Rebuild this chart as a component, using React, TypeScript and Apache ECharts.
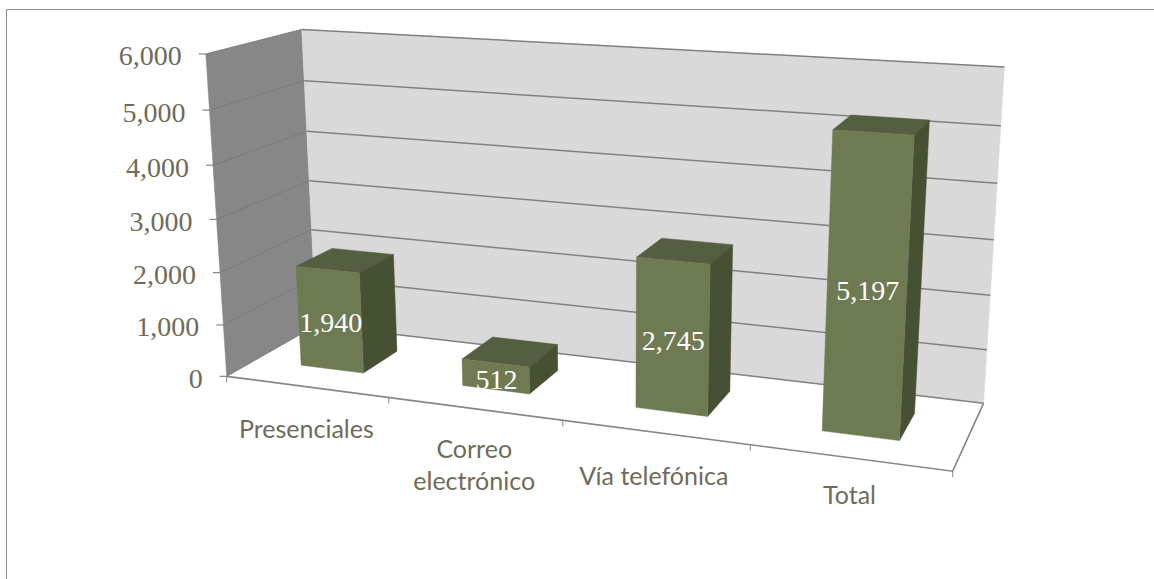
import React, { useEffect, useRef } from "react";
import * as echarts from "echarts";

const categories = ["Presenciales", "Correo\nelectrónico", "Vía telefónica", "Total"];
const values = [1940, 512, 2745, 5197];
const yTicks = [0, 1000, 2000, 3000, 4000, 5000, 6000];
const xTickPositions = [0, 1, 2, 3, 4];

const GRID = { left: 226, top: 54, width: 727, height: 322 };
const BAR_HALF = 0.197; // half of the bar's share of its band
const BAR_SHIFT = -0.003;
const DEPTH_FRONT = 0.31;
const DEPTH_BACK = 0.72;
const labelNudge = [[0, 41], [0, 55], [-1, 43], [0, 36]];

// Corners of the 3D box: [u, v, w] (across, height, depth) to pixel
const corners: number[][] = [
  [0, 0, 0, 226.5, 376.5],
  [0, 1, 0, 206, 54],
  [0, 0, 1, 316.5, 325],
  [0, 1, 1, 301.5, 29.5],
  [1, 0, 1, 983.5, 403.5],
  [1, 1, 1, 1004.5, 67],
  [1, 0, 0, 952.7, 471],
];

function solve(A: number[][], b: number[]) {
  const n = b.length;
  const M = A.map((r, i) => [...r, b[i]]);
  for (let i = 0; i < n; i++) {
    let p = i;
    for (let k = i + 1; k < n; k++) if (Math.abs(M[k][i]) > Math.abs(M[p][i])) p = k;
    [M[i], M[p]] = [M[p], M[i]];
    for (let k = i + 1; k < n; k++) {
      const f = M[k][i] / M[i][i];
      for (let j = i; j <= n; j++) M[k][j] -= f * M[i][j];
    }
  }
  const x = new Array(n).fill(0);
  for (let i = n - 1; i >= 0; i--) {
    let s = M[i][n];
    for (let j = i + 1; j < n; j++) s -= M[i][j] * x[j];
    x[i] = s / M[i][i];
  }
  return x;
}

function fitCamera() {
  const rows: number[][] = [];
  const rhs: number[] = [];
  for (const [u, v, w, px, py] of corners) {
    rows.push([u, v, w, 1, 0, 0, 0, 0, -px * u, -px * v, -px * w]);
    rhs.push(px);
    rows.push([0, 0, 0, 0, u, v, w, 1, -py * u, -py * v, -py * w]);
    rhs.push(py);
  }
  const N = 11;
  const AtA = Array.from({ length: N }, (_, i) =>
    Array.from({ length: N }, (_, j) => rows.reduce((s, r) => s + r[i] * r[j], 0))
  );
  const Atb = Array.from({ length: N }, (_, i) => rows.reduce((s, r, k) => s + r[i] * rhs[k], 0));
  return solve(AtA, Atb);
}
const C = fitCamera();

function project(u: number, v: number, w: number): number[] {
  const d = C[8] * u + C[9] * v + C[10] * w + 1;
  return [
    (C[0] * u + C[1] * v + C[2] * w + C[3]) / d,
    (C[4] * u + C[5] * v + C[6] * w + C[7]) / d,
  ];
}

// library scale -> unit coordinates
const toU = (px: number) => (px - GRID.left) / GRID.width;
const toV = (py: number) => 1 - (py - GRID.top) / GRID.height;

const poly = (points: number[][], fill: string) => ({
  type: "polygon",
  shape: { points },
  style: { fill, stroke: fill, lineWidth: 0.5 },
});
const line = (points: number[][], stroke: string, lineWidth = 1.5) => ({
  type: "polyline",
  shape: { points },
  style: { stroke, lineWidth, fill: "none" },
});

const AXIS_GREY = "#868686";
const TEXT = "#6f6b5a";

const renderWalls = () => ({
  type: "group",
  children: [
    poly([project(0, 0, 0), project(0, 1, 0), project(0, 1, 1), project(0, 0, 1)], "#878787"),
    poly([project(0, 0, 1), project(0, 1, 1), project(1, 1, 1), project(1, 0, 1)], "#d9d9d9"),
    line([project(0, 0, 0), project(1, 0, 0), project(1, 0, 1)], AXIS_GREY, 1.6),
  ],
});

const renderGridLine = (_: any, api: any) => {
  const v = toV(api.coord([0, api.value(0)])[1]);
  const a = project(0, v, 0);
  return {
    type: "group",
    children: [
      line([project(0, v, 0), project(0, v, 1)], "#767676", 0.8),
      line([project(0, v, 1), project(1, v, 1)], "#808080", 1.5),
      line([a, [a[0] - 7, a[1]]], AXIS_GREY, 1.2),
    ],
  };
};

const renderXTick = (_: any, api: any) => {
  const band = api.size([1, 0])[0];
  const x = api.coord([0, 0])[0] - band / 2 + band * api.value(0);
  const p = project(toU(x), 0, 0);
  return line([p, [p[0], p[1] + 6]], AXIS_GREY, 1);
};

const renderYLabel = (_: any, api: any) => {
  const val = api.value(0);
  const v = toV(api.coord([0, val])[1]);
  const p = project(0, v, 0);
  return {
    type: "text",
    style: {
      text: val.toLocaleString("en-US"),
      x: p[0] - 24,
      y: p[1] + 2,
      fill: TEXT,
      font: '28px "Liberation Serif"',
      align: "right",
      verticalAlign: "middle",
    },
  };
};

const renderXLabel = (params: any, api: any) => {
  const i = params.dataIndex;
  const c = api.coord([i, 0]);
  const p = project(toU(c[0]), 0, 0);
  return {
    type: "text",
    style: {
      text: categories[i],
      x: p[0] + labelNudge[i][0],
      y: p[1] + labelNudge[i][1],
      fill: TEXT,
      font: '25px Lato',
      lineHeight: 32,
      align: "center",
      verticalAlign: "middle",
    },
  };
};

const renderBar = (params: any, api: any) => {
  const i = api.value(0);
  const val = api.value(1);
  const [cx, cy] = api.coord([i, val]);
  const band = api.size([1, 0])[0];
  const uc = toU(cx) + BAR_SHIFT;
  const du = (band / GRID.width) * BAR_HALF;
  const h = toV(cy);
  const u0 = uc - du;
  const u1 = uc + du;
  const w0 = DEPTH_FRONT;
  const w1 = DEPTH_BACK;
  const lab = project(uc, h / 2, w0);
  return {
    type: "group",
    children: [
      poly([project(u0, h, w0), project(u1, h, w0), project(u1, h, w1), project(u0, h, w1)], "#545e40"),
      poly([project(u1, 0, w0), project(u1, h, w0), project(u1, h, w1), project(u1, 0, w1)], "#465033"),
      poly([project(u0, 0, w0), project(u0, h, w0), project(u1, h, w0), project(u1, 0, w0)], "#6e7b52"),
      {
        type: "text",
        style: {
          text: val.toLocaleString("en-US"),
          x: lab[0] + 1,
          y: lab[1] + 3,
          fill: "#ffffff",
          font: '28px "Liberation Serif"',
          align: "center",
          verticalAlign: "middle",
        },
      },
    ],
  };
};

export default function App() {
  const ref = useRef<HTMLDivElement>(null);
  useEffect(() => {
    const chart = echarts.init(ref.current!, undefined, { renderer: "svg" });
    chart.setOption({
      animation: false,
      backgroundColor: "#ffffff",
      grid: { ...GRID },
      xAxis: { type: "category", data: categories, show: false },
      yAxis: { type: "value", min: 0, max: 6000, interval: 1000, show: false },
      graphic: [
        {
          type: "polyline",
          shape: { points: [[6.5, 579], [6.5, 9.5], [1154, 9.5]] },
          style: { stroke: "#8c8c8c", lineWidth: 1, fill: "none" },
        },
      ],
      series: [
        { type: "custom", coordinateSystem: "cartesian2d", data: [[0, 0]], renderItem: renderWalls, z: 1, silent: true },
        { type: "custom", coordinateSystem: "cartesian2d", data: yTicks.map((t) => [t]), encode: { x: [], y: 0 }, renderItem: renderGridLine, z: 2, silent: true },
        { type: "custom", coordinateSystem: "cartesian2d", data: xTickPositions.map((t) => [t]), encode: { x: [], y: [] }, renderItem: renderXTick, z: 2, silent: true },
        { type: "custom", coordinateSystem: "cartesian2d", data: values.map((v, i) => [i, v]), encode: { x: 0, y: 1 }, renderItem: renderBar, z: 3, silent: true },
        { type: "custom", coordinateSystem: "cartesian2d", data: yTicks.map((t) => [t]), encode: { x: [], y: 0 }, renderItem: renderYLabel, z: 4, silent: true },
        { type: "custom", coordinateSystem: "cartesian2d", data: categories.map((_, i) => [i]), encode: { x: 0, y: [] }, renderItem: renderXLabel, z: 4, silent: true },
      ],
    });
    return () => chart.dispose();
  }, []);
  return <div ref={ref} style={{ position: "absolute", left: 0, top: 0, width: 1154, height: 579 }} />;
}
